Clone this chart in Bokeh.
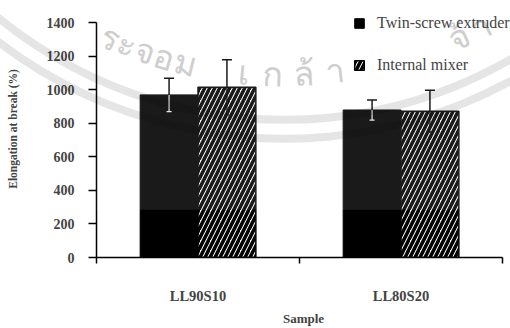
import math
from bokeh.plotting import figure
from bokeh.models import (Range1d, FixedTicker, Whisker, TeeHead, ColumnDataSource,
                          Legend, LegendItem, BoxAnnotation, Label)
from bokeh.embed import file_html
from bokeh.resources import INLINE

# ---- data -------------------------------------------------------------
samples = ["LL90S10", "LL80S20"]
twin_screw = [970, 880]          # elongation at break (%)
twin_screw_err = [100, 60]
internal_mixer = [1015, 873]
internal_mixer_err = [165, 125]
y_ticks = [0, 200, 400, 600, 800, 1000, 1200, 1400]

# ---- layout -----------------------------------------------------------
W, H = 510, 328
LEFT, BOTTOM = 96, 63
FRAME_W = W - LEFT                 # frame runs to the right edge
FRAME_H = H - BOTTOM               # frame runs to the top edge
AXIS_TOP_PX = 23                   # where the value axis stops
AXIS_RIGHT_PX = 8                  # gap between category axis end and edge
Y_MAX = y_ticks[-1]
N = len(samples)
Y_END = Y_MAX * FRAME_H / (FRAME_H - AXIS_TOP_PX)
X_END = N * FRAME_W / (FRAME_W - AXIS_RIGHT_PX)
SERIF = "Liberation Serif"

p = figure(width=W, height=H, output_backend="svg", toolbar_location=None,
           x_range=Range1d(0, X_END), y_range=Range1d(0, Y_END),
           min_border_left=LEFT, min_border_right=0,
           min_border_top=0, min_border_bottom=BOTTOM)
p.outline_line_color = None
p.xgrid.visible = False
p.ygrid.visible = False
p.background_fill_color = "white"
p.border_fill_color = "white"


def px_to_x(px):
    return (px - LEFT) / FRAME_W * X_END


def px_to_y(py):
    return (FRAME_H - py) / FRAME_H * Y_END


# ---- faint circular watermark behind the chart ----------------------
WM_CX, WM_CY = 284, -343
wm_text = [("ร", 110), ("ะ", 127), ("จ", 145), ("อ", 164), ("ม", 185),
           ("เ", 244), ("ก", 272), ("ล้", 303), ("า", 334),
           ("จ้", 458), ("า", 480)]
WM_R = 418
for ch, sx in wm_text:
    dx = sx - WM_CX
    sy = WM_CY + math.sqrt(WM_R ** 2 - dx ** 2)
    theta = math.atan2(dx, sy - WM_CY)
    p.add_layout(Label(x=px_to_x(sx), y=px_to_y(sy), text=ch, angle=theta,
                       text_align="center", text_baseline="middle",
                       text_font="Noto Sans", text_font_size="34px",
                       text_color="#c9c9c9", level="underlay"))

# ---- bars -------------------------------------------------------------
centers = [i + 0.5 for i in range(N)]
BAR_W = 0.285
x_twin = [c - BAR_W / 2 for c in centers]
x_int = [c + BAR_W / 2 for c in centers]

r_twin = p.vbar(x=x_twin, top=twin_screw, width=BAR_W,
                fill_color="black", line_color="black", line_width=1)
r_int = p.vbar(x=x_int, top=internal_mixer, width=BAR_W,
               fill_color="white", line_color="black", line_width=1.5,
               hatch_pattern="/", hatch_color="black",
               hatch_scale=10, hatch_weight=3.5)

# error bars: upper half black with a cap, lower half inside the bar
for xs, tops, errs, inner_color in [(x_twin, twin_screw, twin_screw_err, "#e8e8e8"),
                                     (x_int, internal_mixer, internal_mixer_err, "black")]:
    src = ColumnDataSource(dict(
        x=xs, top=tops,
        hi=[t + e for t, e in zip(tops, errs)],
        lo=[t - e for t, e in zip(tops, errs)]))
    p.add_layout(Whisker(source=src, base="x", lower="top", upper="hi",
                         line_color="black", line_width=1.5,
                         upper_head=TeeHead(size=10, line_color="black", line_width=1.5),
                         lower_head=None, level="annotation"))
    p.add_layout(Whisker(source=src, base="x", lower="lo", upper="top",
                         line_color=inner_color, line_width=1.2,
                         lower_head=TeeHead(size=5, line_color=inner_color, line_width=1.2),
                         upper_head=None, level="annotation"))

# light haze over the upper part of the plotting area
p.add_layout(BoxAnnotation(bottom=285, fill_color="white", fill_alpha=0.1,
                           line_color=None))

# watermark rings, drawn as a thin grey veil
for r_mid in (452, 471):
    p.annulus(x=[px_to_x(WM_CX)], y=[px_to_y(WM_CY)],
              inner_radius=r_mid - 4, outer_radius=r_mid + 4,
              inner_radius_units="screen", outer_radius_units="screen",
              fill_color="black", fill_alpha=0.1, line_color=None, level="overlay")

# ---- axes -------------------------------------------------------------
ya = p.yaxis[0]
ya.ticker = FixedTicker(ticks=y_ticks)
ya.bounds = (0, Y_MAX)
ya.axis_label = "Elongation at break (%)"
ya.axis_label_text_font = SERIF
ya.axis_label_text_font_style = "bold"
ya.axis_label_text_font_size = "11.5px"
ya.axis_label_standoff = 25
ya.major_label_text_font = SERIF
ya.major_label_text_font_style = "bold"
ya.major_label_text_font_size = "14px"
ya.major_label_standoff = 14
ya.major_tick_out = 8
ya.major_tick_in = 0
ya.minor_tick_out = 0
ya.minor_tick_in = 0
ya.axis_line_width = 1.5
ya.major_tick_line_width = 1.5

xa = p.xaxis[0]
xa.ticker = FixedTicker(ticks=centers, minor_ticks=list(range(N + 1)))
xa.bounds = (0, N)
xa.major_label_overrides = {c: s for c, s in zip(centers, samples)}
xa.major_tick_out = 0
xa.major_tick_in = 0
xa.minor_tick_out = 6
xa.minor_tick_in = 0
xa.minor_tick_line_width = 1.5
xa.axis_line_width = 1.5
xa.major_label_text_font = SERIF
xa.major_label_text_font_style = "bold"
xa.major_label_text_font_size = "14.5px"
xa.major_label_standoff = 24
xa.axis_label = "Sample"
xa.axis_label_text_font = SERIF
xa.axis_label_text_font_style = "bold"
xa.axis_label_text_font_size = "13px"
xa.axis_label_standoff = 4

# ---- legend -----------------------------------------------------------
legend = Legend(items=[LegendItem(label="Twin-screw extruder", renderers=[r_twin]),
                       LegendItem(label="Internal mixer", renderers=[r_int])],
                location=(257, 183), orientation="vertical",
                glyph_width=12, glyph_height=12, label_standoff=12,
                label_height=12, spacing=24, padding=0, margin=0,
                border_line_color=None, background_fill_alpha=0,
                label_text_font=SERIF, label_text_font_size="16px")
p.add_layout(legend)

open("out.html", "w").write(file_html(p, INLINE))
